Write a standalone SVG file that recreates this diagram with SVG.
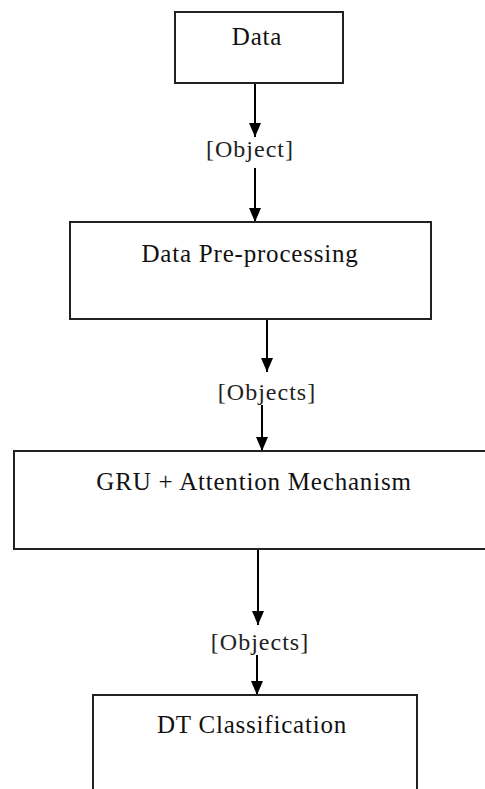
<svg xmlns="http://www.w3.org/2000/svg" width="485" height="789" viewBox="0 0 485 789">
  <style>
    .box { fill: #fff; stroke: #222; stroke-width: 2; }
    .title { font-family: "Liberation Serif", "Times New Roman", serif; font-size: 25px; letter-spacing: 0.8px; fill: #111; text-anchor: middle; }
    .lbl { font-family: "Liberation Serif", "Times New Roman", serif; font-size: 24px; letter-spacing: 1px; fill: #222; text-anchor: middle; }
    .edge { stroke: #000; stroke-width: 2; fill: none; }
  </style>
  <defs>
    <marker id="arrow" viewBox="0 0 14 12" refX="14" refY="6" markerWidth="14" markerHeight="12" markerUnits="userSpaceOnUse" orient="auto">
      <path d="M0,0 L14,6 L0,12 z" fill="#000"/>
    </marker>
  </defs>
  <rect width="485" height="789" fill="#fff"/>

  <g id="connectors">
    <line class="edge" x1="255" y1="83" x2="255" y2="137" marker-end="url(#arrow)"/>
    <line class="edge" x1="255" y1="168" x2="255" y2="222" marker-end="url(#arrow)"/>
    <line class="edge" x1="267" y1="319" x2="267" y2="372" marker-end="url(#arrow)"/>
    <line class="edge" x1="262" y1="405" x2="262" y2="451" marker-end="url(#arrow)"/>
    <line class="edge" x1="258" y1="549" x2="258" y2="625" marker-end="url(#arrow)"/>
    <line class="edge" x1="257" y1="655" x2="257" y2="695" marker-end="url(#arrow)"/>
  </g>

  <g id="edge-labels">
    <text class="lbl" x="250" y="157">[Object]</text>
    <text class="lbl" x="267" y="400">[Objects]</text>
    <text class="lbl" x="260" y="650">[Objects]</text>
  </g>

  <g id="data">
    <rect class="box" x="175" y="12" width="168" height="71"/>
    <text class="title" x="257" y="45">Data</text>
  </g>

  <g id="preprocessing">
    <rect class="box" x="70" y="222" width="361" height="97"/>
    <text class="title" x="250" y="262">Data Pre-processing</text>
  </g>

  <g id="gru-attention">
    <rect class="box" x="14" y="451" width="480" height="98"/>
    <text class="title" x="254" y="490">GRU + Attention Mechanism</text>
  </g>

  <g id="dt-classification">
    <rect class="box" x="93" y="695" width="324" height="110"/>
    <text class="title" x="252" y="733">DT Classification</text>
  </g>
</svg>
